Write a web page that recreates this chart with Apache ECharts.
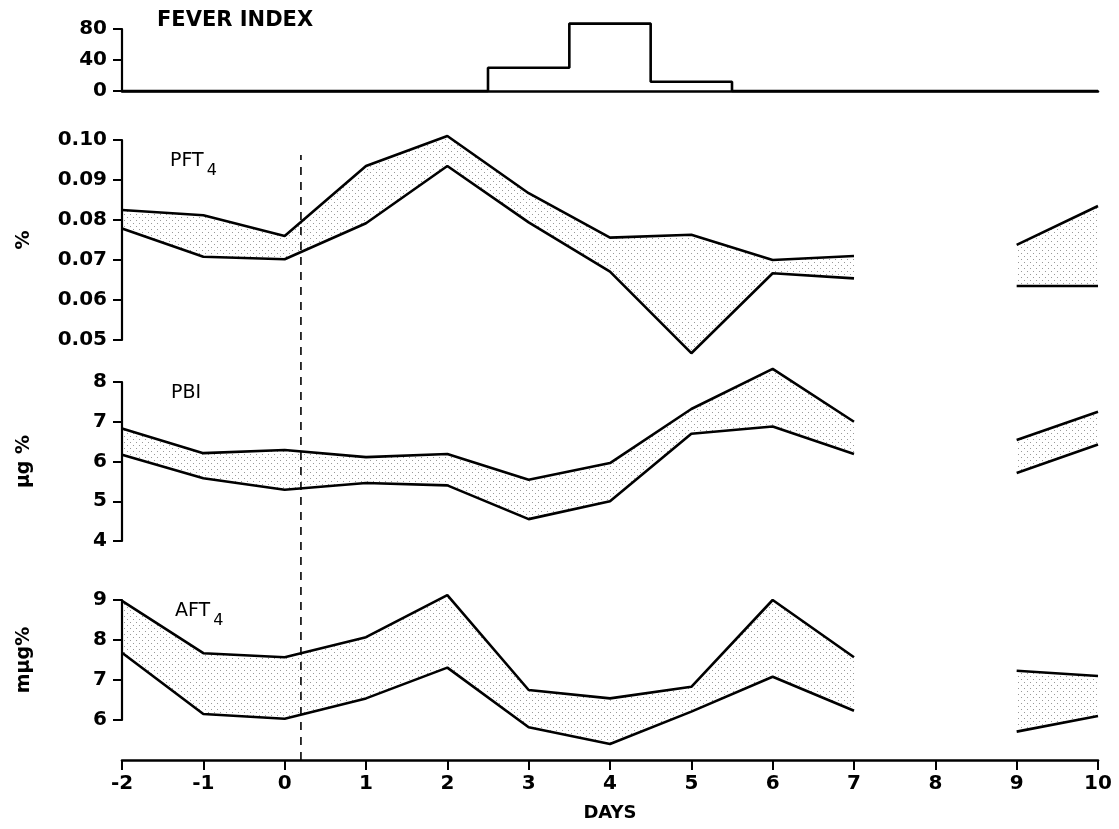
<!DOCTYPE html>
<html>
<head>
<meta charset="utf-8">
<title>Fever index, PFT4, PBI, AFT4</title>
<script src="https://cdn.jsdelivr.net/npm/echarts@6/dist/echarts.min.js"></script>
<style>
  html, body { margin: 0; padding: 0; background: #fff; }
  #chart { width: 1119px; height: 829px; }
</style>
</head>
<body>
<div id="chart"></div>
<script>
// observation days (no samples on day 8)
const days = [-2, -1, 0, 1, 2, 3, 4, 5, 6, 7, 8, 9, 10];

// fever index, one step per day
const feverIndex = [0, 0, 0, 0, 0, 30, 87, 12, 0, 0, 0, 0, 0];

// PFT4 (%)
const pft4High = [0.0825, 0.0812, 0.0760, 0.0935, 0.1010, 0.0867, 0.0756, 0.0763, 0.0700, 0.0710, null, 0.0738, 0.0835];
const pft4Low  = [0.0779, 0.0708, 0.0702, 0.0792, 0.0935, 0.0794, 0.0671, 0.0467, 0.0667, 0.0654, null, 0.0635, 0.0635];

// PBI (µg %)
const pbiHigh = [6.83, 6.21, 6.29, 6.11, 6.19, 5.54, 5.96, 7.32, 8.33, 7.00, null, 6.54, 7.25];
const pbiLow  = [6.17, 5.58, 5.29, 5.46, 5.40, 4.55, 5.00, 6.70, 6.88, 6.19, null, 5.71, 6.43];

// AFT4 (mµg%)
const aft4High = [8.98, 7.67, 7.57, 8.07, 9.12, 6.75, 6.54, 6.83, 9.00, 7.57, null, 7.23, 7.10];
const aft4Low  = [7.68, 6.15, 6.03, 6.54, 7.31, 5.82, 5.40, 6.21, 7.08, 6.23, null, 5.71, 6.10];

// dashed marker line (day)
const markerDay = 0.2;

const FONT = 'DejaVu Sans';

// stipple pattern for the shaded band
function stipple() {
  const c = document.createElement('canvas');
  c.width = 6; c.height = 6;
  const g = c.getContext('2d');
  g.fillStyle = 'rgba(0,0,0,0.4)';
  g.fillRect(1, 1, 1, 1);
  g.fillRect(4, 4, 1, 1);
  return c;
}
const dots = {image: stipple(), repeat: 'repeat'};

function pairs(vals) {
  return days.map((d, i) => [d, vals[i]]);
}

const lineStyle = {color: '#000', width: 2.6};

// shaded area between the high and low lines, one quad per day interval
function band(name, hi, lo, idx) {
  const fill = {
    name: name + ' range', type: 'custom', xAxisIndex: idx, yAxisIndex: idx, clip: false,
    data: days.slice(0, -1).map((d, i) => [d, i]),
    renderItem: function (params, api) {
      const i = params.dataIndex;
      if (hi[i] == null || hi[i + 1] == null) return null;
      return {
        type: 'polygon',
        shape: {points: [
          api.coord([days[i], hi[i]]), api.coord([days[i + 1], hi[i + 1]]),
          api.coord([days[i + 1], lo[i + 1]]), api.coord([days[i], lo[i]])
        ]},
        style: {fill: dots, stroke: null}
      };
    }
  };
  const line = (vals, part) => ({
    name: name + ' ' + part, type: 'line', xAxisIndex: idx, yAxisIndex: idx,
    data: pairs(vals), symbol: 'none', clip: false, lineStyle: lineStyle
  });
  return [fill, line(hi, 'high'), line(lo, 'low')];
}

function yAxisBase(idx, min, max, interval) {
  return {
    type: 'value', gridIndex: idx, min: min, max: max, interval: interval,
    axisLine: {show: true, onZero: false, lineStyle: {color: '#000', width: 2.2}},
    axisTick: {show: true, length: 9, lineStyle: {color: '#000', width: 2}},
    axisLabel: {color: '#000', fontFamily: FONT, fontWeight: 'bold', fontSize: 20, margin: 15},
    splitLine: {show: false},
    nameLocation: 'middle', nameRotate: 90, nameGap: 88,
    nameTextStyle: {color: '#000', fontFamily: FONT, fontWeight: 'bold', fontSize: 19}
  };
}

function xAxisBase(idx) {
  return {
    type: 'value', gridIndex: idx, min: -2, max: 10, interval: 1,
    axisLine: {show: false}, axisTick: {show: false}, axisLabel: {show: false},
    splitLine: {show: false}
  };
}

const xAxes = [0, 1, 2, 3, 4].map(xAxisBase);
// fever baseline
xAxes[0].axisLine = {show: true, onZero: false, lineStyle: {color: '#000', width: 2.6}};
// bottom DAYS axis, placed under the AFT4 panel
Object.assign(xAxes[3], {
  offset: 40,
  axisLine: {show: true, onZero: false, lineStyle: {color: '#000', width: 2.6}},
  axisTick: {show: true, length: 10, lineStyle: {color: '#000', width: 2}},
  axisLabel: {show: true, color: '#000', fontFamily: FONT, fontWeight: 'bold', fontSize: 20, margin: 14},
  name: 'DAYS', nameLocation: 'middle', nameGap: 44,
  nameTextStyle: {color: '#000', fontFamily: FONT, fontWeight: 'bold', fontSize: 18}
});

const yFever = yAxisBase(0, 0, 80, 40);
const yPft4 = yAxisBase(1, 0.05, 0.10, 0.01);
yPft4.axisLabel.formatter = v => v.toFixed(2);
yPft4.name = '%';
const yPbi = yAxisBase(2, 4, 8, 1);
yPbi.name = 'µg %';
const yAft4 = yAxisBase(3, 6, 9, 1);
yAft4.name = 'mµg%';
const yOverlay = {type: 'value', gridIndex: 4, min: 0, max: 1, show: false};

function panelLabel(main, sub, left, top) {
  return {
    text: sub ? '{a|' + main + '}{b|' + sub + '}' : '{a|' + main + '}',
    left: left, top: top, padding: 0,
    textStyle: {
      rich: {
        a: {fontFamily: FONT, fontSize: 19, fontWeight: 'normal', color: '#000', lineHeight: 36, verticalAlign: 'middle'},
        b: {fontFamily: FONT, fontSize: 16, fontWeight: 'normal', color: '#000', lineHeight: 18, verticalAlign: 'bottom', padding: [0, 0, 0, 3]}
      }
    }
  };
}

const option = {
  animation: false,
  backgroundColor: '#fff',
  title: [
    {text: 'FEVER INDEX', left: 157, top: 10, padding: 0,
      textStyle: {color: '#000', fontFamily: FONT, fontWeight: 'bold', fontSize: 21}},
    panelLabel('PFT', '4', 170, 143),
    panelLabel('PBI', null, 171, 375),
    panelLabel('AFT', '4', 175, 593)
  ],
  grid: [
    {left: 122, right: 21, top: 29, height: 62},
    {left: 122, right: 21, top: 140, height: 200},
    {left: 122, right: 21, top: 382, height: 159},
    {left: 122, right: 21, top: 600, height: 120},
    {left: 122, right: 21, top: 155, height: 605}
  ],
  xAxis: xAxes,
  yAxis: [yFever, yPft4, yPbi, yAft4, yOverlay],
  series: [
    {
      name: 'Fever index', type: 'line', step: 'middle', xAxisIndex: 0, yAxisIndex: 0,
      data: pairs(feverIndex), symbol: 'none', clip: false, lineStyle: lineStyle
    },
    ...band('PFT4', pft4High, pft4Low, 1),
    ...band('PBI', pbiHigh, pbiLow, 2),
    ...band('AFT4', aft4High, aft4Low, 3),
    {
      name: 'marker', type: 'line', xAxisIndex: 4, yAxisIndex: 4,
      data: [[markerDay, 0], [markerDay, 1]], symbol: 'none',
      lineStyle: {color: '#000', width: 1.6, type: [8, 7]}
    }
  ]
};

const chart = echarts.init(document.getElementById('chart'), null, {renderer: 'canvas'});
chart.setOption(option);
</script>
</body>
</html>
